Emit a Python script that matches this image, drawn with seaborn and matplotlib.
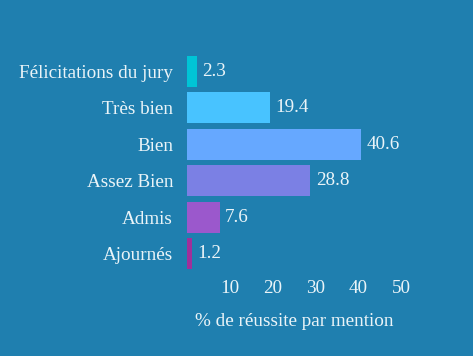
import matplotlib
matplotlib.use("Agg")
import matplotlib.pyplot as plt
import seaborn as sns
import pandas as pd

categories = ["Félicitations du jury", "Très bien", "Bien", "Assez Bien", "Admis", "Ajournés"]
values = [2.3, 19.4, 40.6, 28.8, 7.6, 1.2]
colors = ["#00C4D6", "#48C3FF", "#66A8FF", "#7B80E4", "#9B58CC", "#A0309A"]
xticks = [10, 20, 30, 40, 50]
xlabel = "% de réussite par mention"

bg = "#1F7FAF"
fg = "#EAF4F8"

sns.set_theme(style="white")
plt.rcParams["font.family"] = ["Liberation Serif", "DejaVu Serif"]

df = pd.DataFrame({"cat": categories, "val": values})

fig = plt.figure(figsize=(4.73, 3.56), dpi=100, facecolor=bg)
ax = fig.add_axes([187 / 473, 1 - 272 / 356, (401 - 187) / 473, (272 - 53) / 356])
ax.set_facecolor(bg)

sns.barplot(data=df, x="val", y="cat", hue="cat", palette=colors, legend=False,
            width=0.86, ax=ax, saturation=1, linewidth=0, edgecolor="none")

for c in ax.containers:
    ax.bar_label(c, labels=[f"{v:.1f}" for v in c.datavalues], padding=4,
                 color=fg, fontsize=13.8)

ax.set_xlim(0, 50)
ax.set_xticks(xticks)
ax.set_xticklabels([str(t) for t in xticks])
ax.tick_params(axis="x", colors=fg, labelsize=13.8, length=0, pad=6)
ax.tick_params(axis="y", colors=fg, labelsize=13.8, length=0, pad=10)
ax.set_xlabel(xlabel, color=fg, fontsize=13.8, labelpad=11)
ax.set_ylabel("")
for s in ax.spines.values():
    s.set_visible(False)
ax.grid(False)

fig.savefig("out.png", dpi=100, facecolor=bg)
